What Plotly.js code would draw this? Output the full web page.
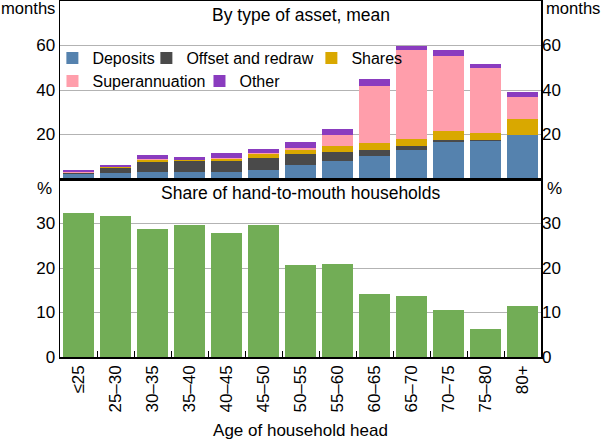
<!DOCTYPE html>
<html>
<head>
<meta charset="utf-8">
<script src="https://cdn.plot.ly/plotly-3.0.1.min.js"></script>
<style>html,body{margin:0;padding:0;background:#fff;}#chart{width:601px;height:442px;}</style>
</head>
<body>
<div id="chart"></div>
<script>
var categories = ["≤25","25–30","30–35","35–40","40–45","45–50","50–55","55–60","60–65","65–70","70–75","75–80","80+"];
var deposits = [2.3, 2.6, 3.0, 3.0, 3.0, 3.9, 6.2, 8.0, 10.3, 13.0, 16.5, 16.9, 20.0];
var offsetRedraw = [0.2, 2.4, 4.5, 5.0, 5.0, 5.4, 4.9, 4.0, 2.6, 1.8, 0.9, 0.5, 0.0];
var shares = [0.4, 0.3, 1.2, 0.4, 0.9, 1.8, 1.8, 2.7, 3.1, 3.1, 4.4, 3.5, 6.8];
var superannuation = [0.1, 0.0, 0.3, 0.0, 0.4, 0.4, 0.9, 5.3, 26.0, 39.9, 33.6, 29.1, 10.2];
var other = [0.9, 0.9, 1.9, 1.4, 2.2, 1.8, 2.7, 2.3, 3.1, 1.8, 2.7, 1.8, 2.3];
var handToMouth = [32.3, 31.7, 28.7, 29.6, 27.8, 29.6, 20.6, 20.8, 14.1, 13.6, 10.5, 6.4, 11.4];
var topTicks = [20, 40, 60];
var bottomTicks = [0, 10, 20, 30];

var FONT = "Arial, 'Liberation Sans', sans-serif";
function stackTrace(name, vals, color, legend, lw) {
  return {type: "bar", name: name, x: categories, y: vals, xaxis: "x", yaxis: "y",
    marker: {color: color, line: {width: 0}}, legend: legend, legendwidth: lw, hoverinfo: "skip"};
}
var data = [
  stackTrace("Deposits", deposits, "#5582ae", "legend", 49),
  stackTrace("Offset and redraw", offsetRedraw, "#4a4a4a", "legend", 120),
  stackTrace("Shares", shares, "#d9a800", "legend", 51),
  stackTrace("Superannuation", superannuation, "#ff9eab", "legend2", 102),
  stackTrace("Other", other, "#8a3cbf", "legend2", 40),
  {type: "bar", name: "Hand-to-mouth", x: categories, y: handToMouth, xaxis: "x2", yaxis: "y2",
    marker: {color: "#72ad56", line: {width: 0}}, showlegend: false, hoverinfo: "skip"},
  // invisible carriers so the right-hand axes get drawn
  {type: "scatter", mode: "markers", x: categories, y: deposits, xaxis: "x", yaxis: "y3",
    marker: {opacity: 0}, showlegend: false, hoverinfo: "skip"},
  {type: "scatter", mode: "markers", x: categories, y: handToMouth, xaxis: "x2", yaxis: "y4",
    marker: {opacity: 0}, showlegend: false, hoverinfo: "skip"}
];
var axLine = {showline: true, linecolor: "#000", linewidth: 1.5, mirror: true};
var tickFont = {size: 17};
var layout = {
  width: 601, height: 442,
  margin: {l: 60, r: 60, t: 1, b: 85, autoexpand: false},
  paper_bgcolor: "#fff", plot_bgcolor: "#fff",
  font: {family: FONT, size: 17, color: "#000"},
  barmode: "stack", bargap: 0.14,
  showlegend: true,
  xaxis: Object.assign({domain: [0, 1], anchor: "y", type: "category", range: [-0.5, 12.5],
    showticklabels: false, ticks: "", showgrid: false}, axLine),
  yaxis: Object.assign({domain: [0.5, 1], anchor: "x", range: [0, 80], tickvals: topTicks,
    ticks: "", showgrid: true, gridcolor: "#b3b3b3", gridwidth: 1, zeroline: false, tickfont: tickFont}, axLine),
  yaxis3: {overlaying: "y", side: "right", anchor: "x", range: [0, 80], tickvals: topTicks,
    ticks: "", showgrid: false, zeroline: false, showline: false, tickfont: tickFont},
  xaxis2: Object.assign({domain: [0, 1], anchor: "y2", type: "category", range: [-0.5, 12.5],
    ticks: "inside", tickson: "boundaries", ticklen: 6, tickcolor: "#000", tickwidth: 1,
    tickangle: -90, showgrid: false, tickfont: tickFont,
    title: {text: "Age of household head", font: {size: 17}, standoff: 12}}, axLine),
  yaxis2: Object.assign({domain: [0, 0.5], anchor: "x2", range: [0, 40], tickvals: bottomTicks,
    ticks: "", showgrid: true, gridcolor: "#b3b3b3", gridwidth: 1, zeroline: false, tickfont: tickFont}, axLine),
  yaxis4: {overlaying: "y2", side: "right", anchor: "x2", range: [0, 40], tickvals: bottomTicks,
    ticks: "", showgrid: false, zeroline: false, showline: false, tickfont: tickFont},
  legend: {orientation: "h", x: 0.7222, xanchor: "right", y: 0.8876, yanchor: "top",
    bgcolor: "rgba(0,0,0,0)", font: {size: 16}, traceorder: "normal"},
  legend2: {orientation: "h", x: 0.4667, xanchor: "right", y: 0.823, yanchor: "top",
    bgcolor: "rgba(0,0,0,0)", font: {size: 16}, traceorder: "normal"},
  annotations: [
    {text: "By type of asset, mean", xref: "paper", yref: "paper", x: 0.5, y: 0.962, yanchor: "middle", showarrow: false, font: {size: 17.5}},
    {text: "Share of hand-to-mouth households", xref: "paper", yref: "paper", x: 0.5, y: 0.462, yanchor: "middle", showarrow: false, font: {size: 17.5}},
    {text: "months", xref: "paper", yref: "paper", x: 0, xanchor: "right", xshift: -3, y: 0.978, yanchor: "middle", showarrow: false, font: {size: 16.6}},
    {text: "months", xref: "paper", yref: "paper", x: 1, xanchor: "left", xshift: 3, y: 0.978, yanchor: "middle", showarrow: false, font: {size: 16.6}},
    {text: "%", xref: "paper", yref: "paper", x: 0, xanchor: "right", xshift: -6, y: 0.472, yanchor: "middle", showarrow: false, font: {size: 17}},
    {text: "%", xref: "paper", yref: "paper", x: 1, xanchor: "left", xshift: 4, y: 0.472, yanchor: "middle", showarrow: false, font: {size: 17}}
  ]
};
Plotly.newPlot("chart", data, layout, {staticPlot: true, displayModeBar: false});
</script>
</body>
</html>
